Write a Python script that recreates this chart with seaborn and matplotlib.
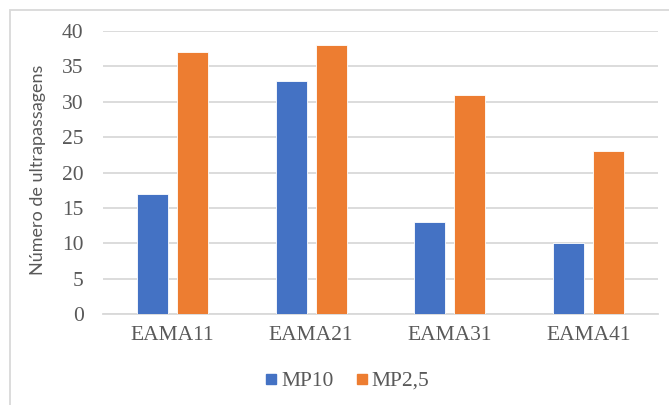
import matplotlib
matplotlib.use("Agg")
import matplotlib.pyplot as plt
from matplotlib.lines import Line2D
from matplotlib.patches import Rectangle
import seaborn as sns
import pandas as pd

# Number of exceedances per monitoring station
stations = ["EAMA11", "EAMA21", "EAMA31", "EAMA41"]
mp10 = [17, 33, 13, 10]
mp25 = [37, 38, 31, 23]
series_names = ["MP10", "MP2,5"]
colors = ["#4472C4", "#ED7D31"]
yticks = [0, 5, 10, 15, 20, 25, 30, 35, 40]

df = pd.DataFrame({
    "station": stations * 2,
    "value": mp10 + mp25,
    "series": [series_names[0]] * len(stations) + [series_names[1]] * len(stations),
})

sns.set_theme(style="white")
plt.rcParams["font.family"] = ["Liberation Serif", "DejaVu Sans"]

W, H = 669, 405
fig = plt.figure(figsize=(W / 100, H / 100), dpi=100)
ax = fig.add_axes([103 / W, 1 - 314 / H, (658 - 103) / W, (314 - 31) / H])

sns.barplot(data=df, x="station", y="value", hue="series", palette=colors,
            saturation=1, width=0.577, gap=0.226, ax=ax, legend=False,
            edgecolor="#ffffff", linewidth=0.6, zorder=3)

ax.set_ylim(0, 40)
ax.set_xlim(-0.5, len(stations) - 0.5)
ax.set_yticks(yticks)
ax.set_yticklabels([str(t) for t in yticks])
ax.yaxis.grid(True, color="#d9d9d9", linewidth=1.3, zorder=0)
ax.set_axisbelow(True)
for s in ["left", "right", "top"]:
    ax.spines[s].set_visible(False)
ax.spines["bottom"].set_color("#d9d9d9")
ax.spines["bottom"].set_linewidth(1.3)
ax.tick_params(axis="y", length=0, pad=14, labelsize=15.5, labelcolor="#595959")
ax.tick_params(axis="x", length=0, pad=9, labelsize=15.5, labelcolor="#595959")
ax.set_xlabel("")
ax.set_ylabel("Número de ultrapassagens", family=["Lato", "DejaVu Sans"],
              fontsize=13, color="#595959")
ax.yaxis.set_label_coords(46 / W, 1 - 170 / H, transform=fig.transFigure)

handles = [Line2D([], [], marker="s", linestyle="none", markersize=7.5,
                  markerfacecolor=c, markeredgecolor=c) for c in colors]
fig.legend(handles, series_names, loc="center", bbox_to_anchor=(347 / W, 1 - 381 / H),
           ncol=2, frameon=False, fontsize=15.5, labelcolor="#595959",
           handlelength=0.6, handletextpad=0.15, columnspacing=1.0,
           borderpad=0, borderaxespad=0)

# chart frame
fig.patches.append(Rectangle((10 / W, -0.1), 1.1, 1 - 10 / H + 0.1,
                             transform=fig.transFigure, fill=False,
                             edgecolor="#d9d9d9", linewidth=1.3))

fig.savefig("out.png", dpi=100, facecolor="white")
